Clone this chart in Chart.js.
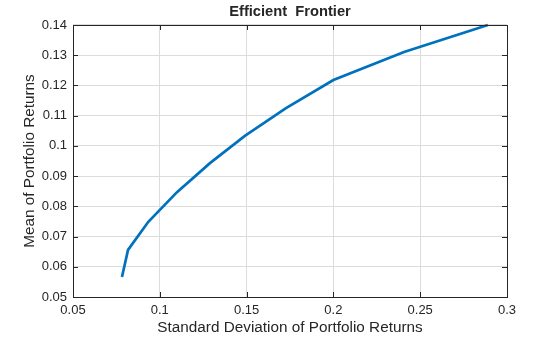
<!DOCTYPE html>
<html>
<head>
<meta charset="utf-8">
<script src="https://cdn.jsdelivr.net/npm/chart.js@4/dist/chart.umd.min.js"></script>
<style>
html,body{margin:0;padding:0;background:#fff;}
#wrap{width:560px;height:337px;position:relative;}
</style>
</head>
<body>
<div id="wrap"><canvas id="c"></canvas></div>
<script>
// Portfolio risk (std dev) and return (mean) along the efficient frontier
const portfolioRisk   = [0.0782, 0.0817, 0.0934, 0.1099, 0.1289, 0.1490, 0.1727, 0.2000, 0.2407, 0.2890];
const portfolioReturn = [0.0566, 0.0656, 0.0749, 0.0847, 0.0943, 0.1033, 0.1125, 0.1218, 0.1311, 0.1400];
const xTicks = [0.05, 0.1, 0.15, 0.2, 0.25, 0.3];
const yTicks = [0.05, 0.06, 0.07, 0.08, 0.09, 0.1, 0.11, 0.12, 0.13, 0.14];
const chartTitle = 'Efficient  Frontier';
const xTitle = 'Standard Deviation of Portfolio Returns';
const yTitle = 'Mean of Portfolio Returns';

const points = portfolioRisk.map((x, i) => ({x: x, y: portfolioReturn[i]}));
const fmt = v => String(Number(Number(v).toFixed(4)));
const axisColor = '#262626';
const fontFamily = "'Liberation Sans', Arial, Helvetica, sans-serif";

const boxPlugin = {
  id: 'box',
  afterDatasetsDraw(chart) {
    const {ctx, chartArea: a, scales} = chart;
    ctx.save();
    ctx.strokeStyle = axisColor;
    ctx.lineWidth = 1;
    const L = 5;
    ctx.beginPath();
    scales.x.ticks.forEach(t => {
      const px = Math.round(scales.x.getPixelForValue(t.value)) + 0.5;
      ctx.moveTo(px, a.bottom); ctx.lineTo(px, a.bottom - L);
      ctx.moveTo(px, a.top); ctx.lineTo(px, a.top + L);
    });
    scales.y.ticks.forEach(t => {
      const py = Math.round(scales.y.getPixelForValue(t.value)) + 0.5;
      ctx.moveTo(a.left, py); ctx.lineTo(a.left + L, py);
      ctx.moveTo(a.right, py); ctx.lineTo(a.right - L, py);
    });
    ctx.stroke();
    ctx.strokeRect(Math.round(a.left) + 0.5, Math.round(a.top) + 0.5,
                   Math.round(a.right - a.left), Math.round(a.bottom - a.top));
    ctx.restore();
  }
};

new Chart(document.getElementById('c'), {
  type: 'scatter',
  data: {
    datasets: [{
      data: points,
      showLine: true,
      borderColor: '#0072BD',
      backgroundColor: '#0072BD',
      borderWidth: 2.7,
      pointRadius: 0,
      tension: 0,
      clip: false
    }]
  },
  options: {
    responsive: true,
    maintainAspectRatio: false,
    animation: false,
    devicePixelRatio: 1,
    layout: {padding: {left: 0, right: 53, top: 0, bottom: 0}},
    plugins: {
      legend: {display: false},
      tooltip: {enabled: false},
      title: {
        display: true,
        fullSize: false,
        text: chartTitle,
        color: axisColor,
        font: {family: fontFamily, size: 14.7, weight: 'bold', lineHeight: 1.2},
        padding: {top: 3, bottom: 4.36},
        align: 'center'
      }
    },
    scales: {
      x: {
        type: 'linear',
        min: 0.05, max: 0.3,
        afterBuildTicks: s => { s.ticks = xTicks.map(v => ({value: v})); },
        afterFit: s => { s.height = 40; },
        grid: {color: '#dcdcdc', drawTicks: false, lineWidth: 1},
        border: {display: false},
        ticks: {
          color: axisColor, padding: 6, maxRotation: 0,
          font: {family: fontFamily, size: 13},
          callback: v => fmt(v)
        },
        title: {
          display: true, text: xTitle, color: axisColor,
          font: {family: fontFamily, size: 15.3, lineHeight: 1.24},
          padding: {top: 0, bottom: 0}
        }
      },
      y: {
        type: 'linear',
        min: 0.05, max: 0.14,
        afterBuildTicks: s => { s.ticks = yTicks.map(v => ({value: v})); },
        afterFit: s => { s.width = 73; },
        grid: {color: '#dcdcdc', drawTicks: false, lineWidth: 1},
        border: {display: false},
        ticks: {
          color: axisColor, padding: 6,
          font: {family: fontFamily, size: 13},
          callback: v => fmt(v)
        },
        title: {
          display: true, text: yTitle, color: axisColor,
          font: {family: fontFamily, size: 15.3, lineHeight: 1.3},
          padding: {top: 20, bottom: 0}
        }
      }
    }
  },
  plugins: [boxPlugin]
});
</script>
</body>
</html>
